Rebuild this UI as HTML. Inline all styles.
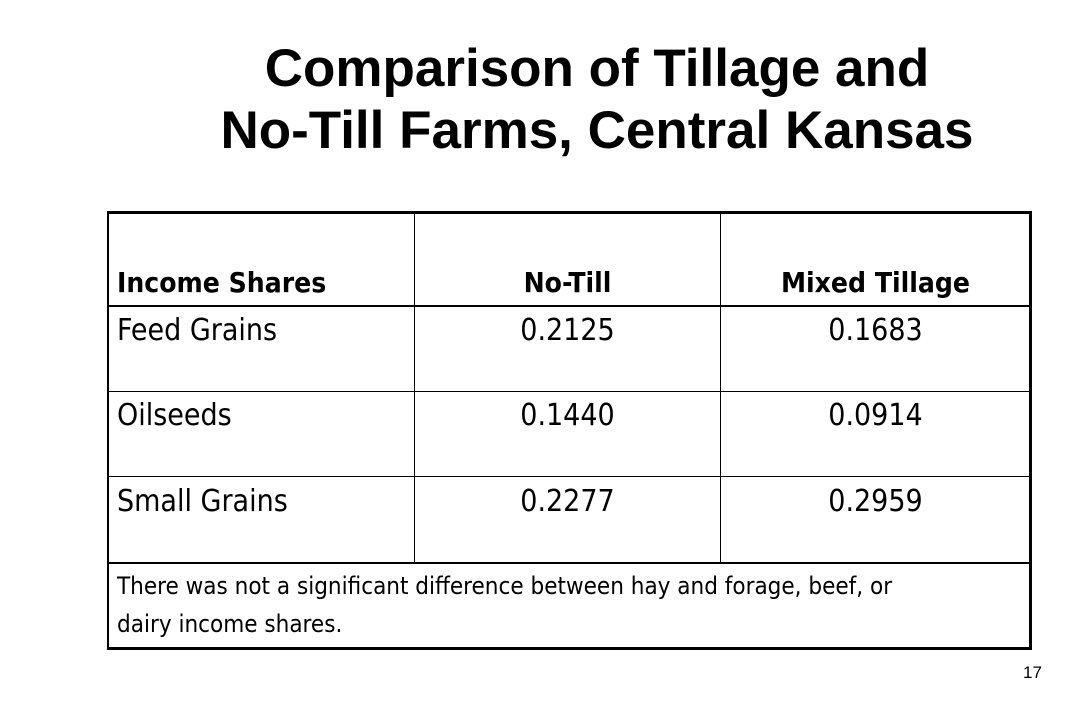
<!DOCTYPE html>
<html><head><meta charset="utf-8"><style>
body{margin:0;width:1080px;height:720px;background:#fff;position:relative;overflow:hidden;font-family:"DejaVu Sans Condensed","DejaVu Sans",sans-serif}
.t{position:absolute;left:0;width:1194px;text-align:center;font-family:"Liberation Sans",sans-serif;font-weight:bold;font-size:53px;line-height:53px;color:#000;white-space:nowrap}
.line{position:absolute;background:#000}
.c{position:absolute;font-size:30px;line-height:30px;color:#000;white-space:nowrap}
</style></head><body>
<div class="t" style="top:42px">Comparison of Tillage and</div>
<div class="t" style="top:104px">No-Till Farms, Central Kansas</div>
<div>
<div class="line" style="left:107px;top:211px;width:924px;height:3px"></div>
<div class="line" style="left:107px;top:647px;width:924px;height:3px"></div>
<div class="line" style="left:107px;top:211px;width:2px;height:439px"></div>
<div class="line" style="left:1029px;top:211px;width:3px;height:439px"></div>
<div class="line" style="left:107px;top:305px;width:924px;height:2px"></div>
<div class="line" style="left:107px;top:391px;width:924px;height:1px"></div>
<div class="line" style="left:107px;top:476px;width:924px;height:1px"></div>
<div class="line" style="left:107px;top:562px;width:924px;height:2px"></div>
<div class="line" style="left:414px;top:211px;width:1px;height:352px"></div>
<div class="line" style="left:720px;top:211px;width:1px;height:352px"></div>

<div class="c" style="left:117px;top:268px;font-weight:bold;font-size:28px">Income Shares</div>
<div class="c" style="left:415px;width:305px;text-align:center;top:268px;font-weight:bold;font-size:28px">No-Till</div>
<div class="c" style="left:721px;width:309px;text-align:center;top:268px;font-weight:bold;font-size:28px">Mixed Tillage</div>

<div class="c" style="left:117px;top:316px">Feed Grains</div>
<div class="c" style="left:415px;width:305px;text-align:center;top:316px">0.2125</div>
<div class="c" style="left:721px;width:309px;text-align:center;top:316px">0.1683</div>

<div class="c" style="left:117px;top:401px">Oilseeds</div>
<div class="c" style="left:415px;width:305px;text-align:center;top:401px">0.1440</div>
<div class="c" style="left:721px;width:309px;text-align:center;top:401px">0.0914</div>

<div class="c" style="left:117px;top:487px">Small Grains</div>
<div class="c" style="left:415px;width:305px;text-align:center;top:487px">0.2277</div>
<div class="c" style="left:721px;width:309px;text-align:center;top:487px">0.2959</div>

<div class="c" style="left:117px;top:567px;font-size:24px;line-height:38px;white-space:normal;width:905px">There was not a significant difference between hay and forage, beef, or<br>dairy income shares.</div>
</div>
<div class="c" style="left:1023px;top:664px;font-family:'Liberation Sans',sans-serif;font-size:17px;line-height:17px">17</div>
</body></html>
